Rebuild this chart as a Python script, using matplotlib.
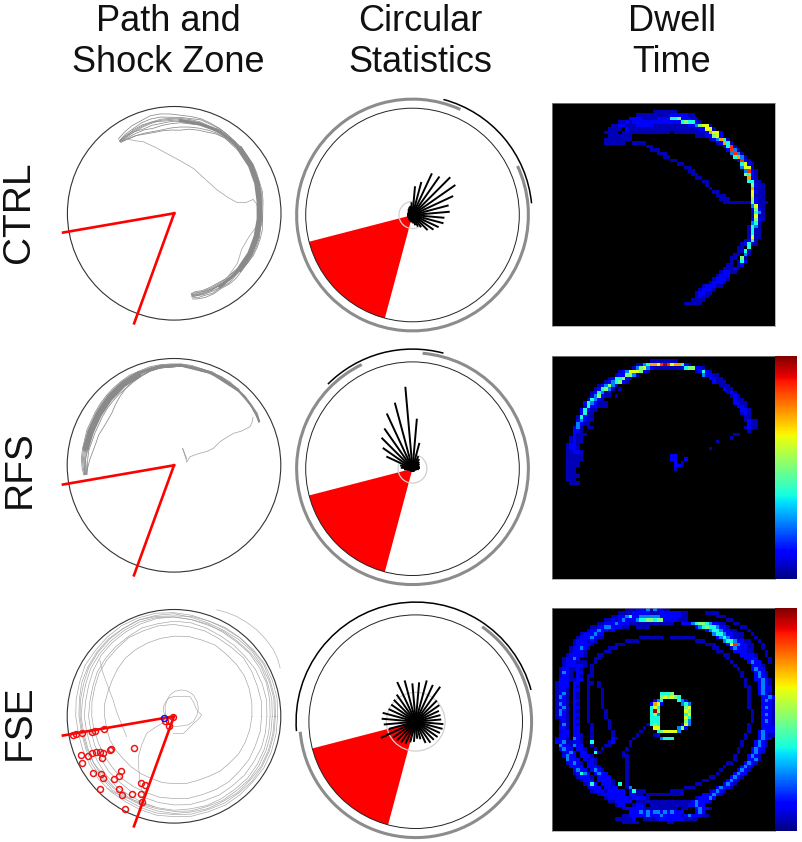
#!/usr/bin/env python3
"""Path, circular statistics and dwell time maps for three groups."""
import numpy as np
import matplotlib
matplotlib.use("Agg")
import matplotlib.pyplot as plt
from matplotlib.cm import ScalarMappable
from matplotlib.colors import Normalize
from matplotlib.patches import Arc, Circle, Wedge

W, H = 802, 842
GROUPS = ["CTRL", "RFS", "FSE"]
GROUP_Y = [212, 469, 722]
COLUMN_TITLES = [("Path and", "Shock Zone"), ("Circular", "Statistics"), ("Dwell", "Time")]
TITLE_X = [168.5, 420, 672]

# shock zone, degrees
ZONE_START = 194.5
ZONE_END = 255
ZONE_LINE_ENDS = [(-104, -18), (-37.5, -103)]

# --- paths, arena units (radius 100) ---
CTRL_ANGLES = [127, 122, 116, 110, 104, 98, 92, 86, 80, 74, 68, 62, 56, 50, 44, 38, 32, 26,
               20, 14, 8, 2, -4, -10, -16, -22, -28, -34, -40, -46, -52, -58, -64, -70, -75, -78]
CTRL_LAPS = [
    [87, 89, 91, 92, 94, 94, 93, 92, 92, 92, 91, 90, 89, 88, 88, 87, 87, 86, 85, 85, 84, 83, 83, 84, 84, 84, 84, 83, 83, 84, 84, 83, 84, 84, 83, 82],
    [85, 87, 88, 90, 91, 91, 90, 90, 90, 91, 90, 90, 89, 88, 87, 87, 86, 85, 84, 84, 83, 82, 83, 82, 83, 83, 83, 83, 82, 82, 83, 82, 83, 82, 82, 80],
    [84, 84, 85, 86, 87, 88, 88, 89, 89, 89, 88, 89, 88, 87, 87, 86, 85, 84, 84, 83, 82, 82, 81, 82, 82, 82, 81, 82, 81, 81, 81, 82, 81, 81, 80, 80],
    [85, 85, 85, 84, 85, 85, 86, 87, 87, 87, 87, 88, 87, 86, 86, 85, 85, 84, 83, 82, 82, 81, 81, 81, 81, 81, 81, 80, 81, 81, 80, 80, 80, 80, 80, 79],
    [84, 83, 83, 83, 82, 83, 84, 85, 85, 86, 86, 87, 86, 86, 85, 84, 84, 83, 83, 82, 81, 81, 80, 80, 80, 80, 80, 81, 80, 80, 79, 79, 79, 78, 78, 78],
    [84, 82, 81, 80, 79, 79, 80, 81, 82, 83, 84, 85, 85, 85, 85, 84, 83, 82, 82, 81, 80, 80, 79, 79, 79, 79, 80, 79, 79, 78, 78, 78, 78, 78, 77, 77],
    [83, 82, 81, 79, 78, 78, 78, 78, 80, 81, 82, 84, 85, 84, 84, 83, 83, 82, 81, 80, 79, 79, 79, 78, 78, 79, 79, 79, 79, 78, 78, 77, 77, 77, 76, 77],
    [85, 86, 86, 87, 88, 89, 89, 88, 88, 88, 88, 88, 87, 87, 86, 85, 85, 83, 83, 81, 81, 79, 78, 79, 80, 80, 80, 80, 80, 79, 80, 80, 79, 79, 79, 78],
    [85, 85, 87, 88, 88, 87, 87, 86, 86, 87, 87, 86, 87, 85, 85, 86, 84, 84, 82, 83, 80, 80, 82, 80, 79, 81, 82, 81, 80, 80, 81, 79, 80, 80, 79, 79],
]
# densest stretches of the track
CTRL_CORE_ANGLES = [86, 74, 62, 50, 38, 26, 14, 2, -10, -22, -34, -46, -58]
CTRL_CORE_RADII = [87, 87, 87.5, 87, 85.5, 83.5, 81.5, 80, 80, 80.5, 80.5, 80.5, 81]
CTRL_THICK_ANGLES = [44, 32, 20, 8, -4, -16, -28, -40]
CTRL_THICK_RADII = [86, 84.5, 82.5, 80.5, 80, 80, 80.5, 80.5]
CTRL_EXTRA = [
    [(-46, 70), (-37, 68), (-29, 67), (-18, 62), (-7, 56), (6, 49), (18, 42), (29, 32), (40, 22), (50, 15), (59, 10), (67, 10), (74, 13), (77, 9), (79, 4)],
    [(78, -11), (70, -22), (63, -34), (61, -41), (59, -47), (50, -60), (43, -69), (36, -73), (30, -75)],
]

RFS_ANGLES = [27, 32, 38, 44, 50, 56, 62, 68, 74, 80, 86, 92, 98, 104, 110, 116, 122, 128,
              134, 140, 146, 152, 158, 164, 170, 176, 182, 186]
RFS_LAPS = [
    [90, 92, 92, 93, 93, 94, 94, 94, 94, 95, 95, 95, 95, 95, 94, 94, 93, 92, 91, 90, 89, 88, 88, 87, 87, 87, 86, 85],
    [90, 91, 92, 92, 93, 93, 94, 93, 94, 94, 94, 94, 94, 94, 93, 93, 92, 91, 90, 89, 88, 87, 87, 86, 86, 86, 85, 84],
    [89, 91, 91, 92, 93, 93, 93, 93, 93, 94, 94, 93, 93, 93, 92, 92, 91, 90, 89, 88, 87, 86, 86, 85, 85, 85, 84, 84],
    [90, 90, 91, 92, 92, 93, 92, 93, 93, 93, 93, 93, 93, 92, 92, 91, 90, 89, 88, 87, 86, 85, 85, 84, 84, 84, 84, 83],
    [89, 90, 91, 91, 92, 92, 92, 92, 93, 93, 93, 93, 92, 92, 91, 90, 89, 88, 87, 86, 85, 84, 84, 83, 83, 83, 83, 83],
    [90, 91, 91, 92, 92, 92, 93, 93, 92, 93, 93, 92, 92, 91, 90, 89, 88, 87, 86, 85, 84, 83, 82, 82, 82, 83, 82, 82],
    [90, 91, 91, 92, 92, 92, 93, 93, 92, 93, 93, 92, 92, 91, 89, 87, 85, 84, 83, 82, 81, 80, 80, 80, 81, 81, 81, 82],
    [90, 91, 91, 92, 92, 92, 93, 93, 92, 93, 93, 92, 92, 91, 89, 87, 85, 82, 79, 76, 75, 75, 76, 76, 77, 79, 81, 83],
]
RFS_CORE_ANGLES = [50, 68, 86, 98, 110, 122, 134, 146, 158, 170]
RFS_CORE_RADII = [92.5, 93.5, 94, 93.5, 92.5, 90.5, 88.5, 86.5, 85, 84.5]
RFS_THICK_ANGLES = [112, 122, 134, 146, 158, 168]
RFS_THICK_RADII = [91, 89.5, 87, 85, 84, 84]
RFS_EXTRA = [
    [(74, 45), (73, 40), (71, 36), (63, 32), (56, 30), (49, 26), (43, 22), (37, 16), (31, 13), (23, 11), (15, 8), (12, 3), (10, 10), (8, 16), (10, 11), (12, 6)],
]

FSE_ANGLES = list(range(0, 370, 10))
FSE_LAPS = [
    [73, 74, 75, 76, 76, 76, 77, 76, 76, 75, 74, 73, 72, 71, 69, 67, 66, 66, 65, 64, 64, 63, 62, 62, 62, 62, 63, 63, 64, 64, 65, 67, 68, 70, 71, 72, 73],
    [82, 83, 83, 84, 85, 84, 84, 85, 85, 86, 86, 85, 85, 83, 82, 81, 79, 78, 77, 76, 75, 75, 75, 76, 76, 76, 77, 77, 78, 78, 79, 80, 80, 81, 81, 82, 82],
    [87, 88, 88, 88, 87, 87, 87, 88, 89, 89, 88, 88, 86, 85, 84, 83, 81, 80, 80, 79, 79, 79, 80, 80, 81, 81, 82, 83, 84, 84, 85, 85, 86, 86, 87, 87, 87],
    [90, 91, 92, 92, 92, 91, 91, 92, 92, 93, 93, 92, 91, 90, 89, 87, 85, 84, 84, 83, 83, 83, 84, 85, 85, 86, 87, 88, 88, 89, 89, 89, 90, 90, 90, 90, 90],
    [94, 95, 95, 95, 95, 94, 93, 93, 94, 96, 96, 96, 95, 94, 93, 92, 90, 89, 88, 87, 87, 87, 88, 88, 88, 89, 90, 91, 91, 92, 92, 93, 93, 94, 94, 94, 94],
    [97, 98, 98, 98, 97, 96, 95, 95, 96, 97, 98, 98, 98, 97, 96, 96, 94, 93, 92, 91, 91, 91, 92, 92, 92, 93, 94, 94, 95, 95, 96, 96, 96, 97, 97, 97, 97],
    [92, 93, 93, 94, 93, 92, 92, 91, 92, 93, 94, 94, 93, 92, 91, 90, 88, 87, 87, 86, 86, 87, 86, 87, 87, 88, 88, 89, 90, 90, 91, 91, 92, 92, 92, 92, 92],
    [95, 96, 96, 97, 96, 96, 96, 95, 95, 94, 95, 96, 95, 95, 94, 93, 92, 90, 89, 88, 88, 89, 89, 90, 90, 91, 92, 92, 93, 93, 94, 94, 95, 95, 95, 95, 95],
]
FSE_EXTRA = [
    [(40, 99.7), (50, 97), (58.8, 93.4), (68, 88), (77.5, 81), (86, 72), (93, 62.5), (97, 54), (99.4, 45.3)],
    [(-6.9, -1.9), (-8, 3), (-8.4, 9), (-6.5, 15), (-3.8, 20), (1, 23.5), (7.2, 24.7), (13, 23.5), (18.1, 20), (21.5, 14),
     (22.8, 7.5), (21.5, 1), (18.1, -5), (13, -8), (7.2, -9), (2, -9.5), (-2.2, -9)],
    [(-8.4, 1.2), (-10, 5), (-10, 9), (-8, 13), (-5.3, 17), (0, 18.5), (4, 18.4), (10, 18.8), (15, 18.4), (18.5, 13),
     (20.6, 7.5), (23, 4), (26, 1.2), (22.5, -3), (18, -7), (14, -11), (8.8, -16), (4, -16.3), (-0.6, -16)],
    [(-44.4, -19), (-48, -10), (-52, -0.3), (-55, 8), (-57, 15.3), (-60, 23), (-63, 31), (-67, 42), (-69.4, 52.8)],
    [(-8.4, -5), (-17, -10), (-25.6, -16), (-30, -26), (-33.4, -37.8), (-33, -49), (-32, -59.7), (-30, -69), (-27, -78.4)],
    [(-63, -67.5), (-55, -72), (-47.5, -75), (-33, -80), (-19, -84.7)],
]
FSE_SHOCKS = [(-94.4, -17.5), (-91.9, -16.6), (-86.6, -15.3), (-77.2, -14.4), (-74.1, -14.1), (-65.6, -11.9),
              (-59.4, -30.9), (-60, -31.6), (-37.2, -29.4), (-87.5, -36.6), (-86.6, -43.4), (-80.3, -37.2),
              (-76.6, -34.7), (-73.4, -33.1), (-69.4, -33.4), (-66.3, -34.1), (-67.2, -39.1), (-75.6, -53.4),
              (-68.8, -54.4), (-66.3, -57.8), (-56.3, -58.4), (-51.6, -55.9), (-50, -51.3), (-69.4, -67.8),
              (-51.6, -68.4), (-48.4, -73.4), (-39.1, -72.5), (-31.3, -62.2), (-27.2, -64.7), (-31.3, -72.5),
              (-29.7, -80), (-45.9, -86.6), (-8.4, -4.4), (-4.4, -4.1), (-4.7, -8.8), (-1, -1)]
FSE_FIRST_ENTRY = (-9, -1.3)

# --- circular statistics: one ray per 10 degree bin, starting at 5 degrees ---
ROSE_ANGLES = list(range(5, 365, 10))
CTRL_ROSE = [35, 35, 42, 49, 50, 44, 43, 32, 27, 12, 9, 8, 7, 6, 5, 5, 5, 5, 5, 5, 5, 5, 5, 6, 6, 7, 7, 8, 10, 12, 14, 20, 24, 27, 30, 30]
RFS_ROSE = [7, 7, 7, 8, 9, 11, 13, 25, 47, 77, 64, 57, 46, 41, 34, 27, 12, 11, 8, 5, 3, 3, 3, 3, 3, 3, 3, 3, 3, 3, 3, 3, 3, 3, 4, 6]
FSE_ROSE = [24, 24, 24, 27, 28, 40, 38, 40, 37, 36, 40, 41, 31, 29, 28, 28, 32, 32, 30, 26, 36, 26, 25, 24, 23, 20, 19, 16, 17, 22, 24, 24, 25, 25, 26, 26]
# arcs as (start, end) in degrees
GRAY_ARCS = [(65.6, 385), (116, 445), (185, 415)]
BLACK_ARCS = [(5.6, 75), (75, 135), (15.4, 184.5)]
INNER_CIRCLES = [12.7, 13.5, 27.5]

# --- dwell time maps, 64 x 64: (row, first column, cell levels 0-9) ---
# position of each level on the colour scale
LEVELS = [0, 0.05, 0.12, 0.25, 0.38, 0.5, 0.62, 0.74, 0.86, 0.97]
CTRL_CELLS = [
    (2, 29, "1111111"), (3, 24, "11111111112222211"), (4, 22, "222211112222445222" "11"),
    (5, 19, "112122222222222222454421"), (6, 17, "1122111222221111111111223566" "1"),
    (7, 16, "1111021111111111111111111122661"), (8, 15, "11110111111111111110111111111" "27" "662"),
    (9, 16, "1111111"), (9, 41, "11122562"), (10, 15, "11111111"), (10, 45, "123741"),
    (11, 15, "111111"), (11, 23, "1111"), (11, 47, "12741"), (12, 27, "11"), (12, 49, "2481"),
    (13, 28, "111"), (13, 50, "2831"), (14, 30, "111"), (14, 51, "3831"), (15, 32, "11"), (15, 52, "4731"),
    (16, 34, "11"), (16, 53, "2821"), (17, 36, "11"), (17, 54, "4621"), (18, 38, "11"), (18, 54, "3661"),
    (19, 39, "11"), (19, 55, "3821"), (20, 40, "11"), (20, 55, "5421"), (21, 41, "11"), (21, 56, "721"),
    (22, 43, "11"), (22, 56, "4411"), (23, 44, "1"), (23, 57, "5211"), (24, 45, "1"), (24, 57, "7111"),
    (25, 46, "11"), (25, 57, "6211"), (26, 47, "111"), (26, 57, "6111"), (27, 48, "111"), (27, 57, "5211"),
    (28, 49, "11111111"), (28, 57, "52111"), (29, 57, "3611"), (30, 57, "2521"), (31, 57, "1431"),
    (32, 57, "1611"), (33, 57, "2521"), (34, 57, "341"), (35, 56, "1431"), (36, 56, "1411"), (37, 56, "1411"),
    (38, 56, "1611"), (39, 55, "1241"), (40, 54, "12411"), (41, 53, "1104"), (42, 53, "1141"),
    (43, 52, "11031"), (44, 51, "11051"), (45, 51, "10142"), (46, 50, "11012"), (47, 49, "11121"),
    (48, 48, "12211"), (49, 47, "1222"), (50, 46, "12221"), (51, 45, "12221"), (52, 43, "122211"),
    (53, 42, "12221"), (54, 41, "12211"), (55, 41, "1211"), (56, 40, "1111"), (57, 38, "11111"),
]
RFS_CELLS = [
    (1, 28, "11111111"), (2, 24, "1134776898677421"), (3, 23, "135632111111112455221"),
    (4, 19, "123666521"), (4, 41, "12421"), (5, 18, "122553" "1"), (5, 43, "32211"),
    (6, 16, "124452" "1"), (6, 45, "2211"), (7, 15, "123452" "1"), (7, 46, "2111"),
    (8, 13, "123531"), (8, 48, "111"), (9, 12, "124531"), (9, 19, "1"), (9, 49, "211"),
    (10, 11, "124311"), (10, 50, "121"), (11, 11, "135211"), (11, 18, "1"), (11, 51, "121"),
    (12, 10, "14321"), (12, 52, "211"), (13, 9, "2432111"), (13, 52, "2211"),
    (14, 9, "142211"), (14, 15, "1"), (14, 53, "221"), (15, 8, "24211"), (15, 54, "221"),
    (16, 8, "2411"), (16, 54, "121"), (17, 7, "1421"), (17, 11, "1"), (17, 55, "11"),
    (18, 7, "2321"), (18, 11, "1"), (18, 55, "1211"), (19, 7, "321"), (19, 10, "1"), (19, 56, "211"),
    (20, 6, "231"), (20, 10, "11"), (20, 55, "1211"), (21, 6, "221"), (21, 56, "1"),
    (22, 6, "211"), (22, 9, "1"), (22, 52, "11"), (23, 5, "1211"), (23, 51, "1"),
    (24, 5, "1211"), (24, 47, "1"), (25, 4, "1221"), (26, 4, "1221"), (26, 45, "1"),
    (27, 4, "11221"), (28, 4, "11111"), (28, 34, "22"), (29, 4, "11111"), (29, 34, "22"), (29, 38, "2"),
    (30, 4, "1111"), (30, 35, "2"), (30, 37, "1"), (31, 4, "1111"), (31, 35, "221"),
    (32, 4, "111"), (32, 35, "1"), (33, 4, "111"), (34, 4, "1111"), (35, 4, "111"), (36, 5, "111"),
]
FSE_CELLS = [
    (0, 21, "1112223132211"), (1, 19, "11112222211122222211"), (1, 44, "1111"),
    (2, 17, "1122342233333322222211"), (2, 47, "111"), (3, 15, "112123222344554552222111"), (3, 50, "11"),
    (4, 13, "1122232221111111111111"), (4, 37, "2223455432211"), (4, 52, "11"),
    (5, 11, "11223322211"), (5, 24, "1111"), (5, 41, "2345443221"), (5, 54, "11"),
    (6, 10, "12232212"), (6, 44, "234432211"), (6, 56, "1"),
    (7, 8, "1222322"), (7, 46, "344322111"), (7, 57, "1"),
    (8, 7, "12223211"), (8, 25, "1111111"), (8, 34, "1111111"), (8, 47, "23432111"), (8, 58, "1"),
    (9, 6, "1222121"), (9, 21, "1111"), (9, 41, "111"), (9, 49, "34432211"), (9, 59, "1"),
    (10, 6, "122221"), (10, 18, "111"), (10, 44, "111"), (10, 50, "26832211"), (10, 60, "1"),
    (11, 5, "122321"), (11, 16, "111"), (11, 46, "11"), (11, 51, "2322211"), (11, 60, "1"),
    (12, 5, "12221"), (12, 15, "11"), (12, 47, "11"), (12, 52, "222211"), (12, 61, "1"),
    (13, 4, "122221"), (13, 13, "11"), (13, 49, "11"), (13, 54, "22221"), (13, 61, "1"),
    (14, 3, "12132"), (14, 12, "11"), (14, 50, "1"), (14, 55, "2222"), (14, 62, "1"),
    (15, 3, "12221"), (15, 8, "11"), (15, 12, "1"), (15, 51, "1"), (15, 56, "2322"), (15, 62, "1"),
    (16, 3, "1222"), (16, 7, "221"), (16, 11, "1"), (16, 52, "1"), (16, 57, "2221"),
    (17, 2, "12211"), (17, 7, "21"), (17, 11, "1"), (17, 53, "1"), (17, 57, "2322"),
    (18, 2, "1321"), (18, 7, "22"), (18, 11, "1"), (18, 54, "1"), (18, 58, "2321"),
    (19, 2, "1221"), (19, 7, "21"), (19, 10, "11"), (19, 54, "1"), (19, 58, "2321"),
    (20, 2, "2221"), (20, 6, "122"), (20, 10, "1"), (20, 55, "1"), (20, 58, "22321"),
    (21, 1, "1222"), (21, 6, "22"), (21, 10, "11"), (21, 13, "1"), (21, 55, "1"), (21, 59, "2321"),
    (22, 1, "1222"), (22, 6, "21"), (22, 10, "1"), (22, 13, "1"), (22, 55, "11"), (22, 59, "2322"),
    (23, 1, "1221"), (23, 6, "22"), (23, 10, "1"), (23, 14, "1"), (23, 56, "1"), (23, 59, "2322"),
    (24, 1, "1231"), (24, 6, "21"), (24, 10, "1"), (24, 14, "1"), (24, 31, "4445"), (24, 56, "1"), (24, 59, "2321"),
    (25, 1, "1321"), (25, 6, "21"), (25, 10, "1"), (25, 14, "1"), (25, 31, "565654"), (25, 56, "1"), (25, 60, "2232"),
    (26, 1, "1221"), (26, 6, "22"), (26, 10, "1"), (26, 14, "1"), (26, 29, "234"), (26, 36, "432"), (26, 56, "1"), (26, 60, "2321"),
    (27, 1, "1321"), (27, 6, "21"), (27, 10, "1"), (27, 14, "1"), (27, 28, "2762"), (27, 37, "343"), (27, 56, "1"), (27, 60, "2221"),
    (28, 1, "1231"), (28, 6, "22"), (28, 10, "1"), (28, 14, "1"), (28, 28, "464"), (28, 38, "56"), (28, 56, "1"), (28, 60, "2321"),
    (29, 1, "1321"), (29, 6, "21"), (29, 10, "1"), (29, 15, "1"), (29, 28, "495"), (29, 38, "65"), (29, 57, "1"), (29, 60, "2221"),
    (30, 1, "1321"), (30, 6, "22"), (30, 10, "1"), (30, 15, "1"), (30, 28, "453"), (30, 38, "46"), (30, 57, "1"), (30, 60, "2321"),
    (31, 1, "1221"), (31, 6, "21"), (31, 10, "1"), (31, 15, "1"), (31, 28, "444"), (31, 38, "64"), (31, 57, "1"), (31, 60, "2221"),
    (32, 2, "121"), (32, 6, "22"), (32, 10, "1"), (32, 16, "1"), (32, 28, "444"), (32, 38, "53"), (32, 57, "1"), (32, 60, "2321"),
    (33, 2, "131"), (33, 6, "21"), (33, 11, "1"), (33, 16, "1"), (33, 27, "1"), (33, 28, "454"), (33, 37, "263"), (33, 56, "1"), (33, 60, "2221"),
    (34, 2, "221"), (34, 6, "22"), (34, 11, "1"), (34, 16, "1"), (34, 26, "1"), (34, 29, "66"), (34, 36, "352"), (34, 56, "1"), (34, 60, "2222"),
    (35, 2, "122"), (35, 6, "22"), (35, 11, "1"), (35, 17, "1"), (35, 25, "1"), (35, 30, "4566663"), (35, 56, "1"), (35, 59, "23222"),
    (36, 2, "222"), (36, 6, "221"), (36, 11, "1"), (36, 17, "1"), (36, 24, "1"), (36, 29, "12"), (36, 55, "1"), (36, 59, "23211"),
    (37, 1, "1221"), (37, 6, "321"), (37, 11, "1"), (37, 17, "21"), (37, 23, "1"), (37, 31, "3444"), (37, 55, "1"), (37, 59, "2322"),
    (38, 1, "2231"), (38, 5, "1221"), (38, 11, "4"), (38, 16, "12"), (38, 22, "1"), (38, 54, "1"), (38, 58, "2321"),
    (39, 2, "3221"), (39, 6, "322"), (39, 11, "1"), (39, 15, "11"), (39, 22, "1"), (39, 54, "1"), (39, 58, "2321"),
    (40, 2, "2322"), (40, 7, "221"), (40, 12, "1"), (40, 14, "1"), (40, 21, "1"), (40, 53, "1"), (40, 57, "2322"),
    (41, 3, "1232"), (41, 8, "22"), (41, 12, "41"), (41, 20, "1"), (41, 53, "1"), (41, 57, "2321"),
    (42, 3, "2322"), (42, 8, "2221"), (42, 20, "11"), (42, 52, "1"), (42, 56, "2321"),
    (43, 4, "3222"), (43, 9, "2121"), (43, 21, "1"), (43, 52, "1"), (43, 56, "2231"),
    (44, 4, "12321"), (44, 10, "221"), (44, 21, "1"), (44, 50, "11"), (44, 55, "2321"),
    (45, 5, "2222"), (45, 10, "2221"), (45, 21, "1"), (45, 49, "1"), (45, 54, "2321"),
    (46, 6, "2322"), (46, 11, "2321"), (46, 21, "1"), (46, 48, "1"), (46, 53, "2321"),
    (47, 6, "12432"), (47, 12, "2322"), (47, 21, "1"), (47, 47, "1"), (47, 52, "2322"),
    (48, 7, "12221"), (48, 13, "2222"), (48, 21, "1"), (48, 45, "11"), (48, 51, "2321"),
    (49, 8, "1222"), (49, 13, "22221"), (49, 21, "1"), (49, 43, "11"), (49, 50, "2321"),
    (50, 9, "1242"), (50, 14, "2221"), (50, 19, "4"), (50, 21, "1"), (50, 41, "11"), (50, 49, "2321"),
    (51, 10, "1222"), (51, 15, "2222"), (51, 21, "13"), (51, 38, "111"), (51, 47, "23221"),
    (52, 11, "12221"), (52, 16, "22222"), (52, 22, "241"), (52, 25, "11"), (52, 34, "1111"), (52, 45, "12321"),
    (53, 13, "1222"), (53, 17, "2222"), (53, 22, "2211"), (53, 27, "11111111111"), (53, 43, "222321"),
    (54, 15, "12222221"), (54, 23, "22221"), (54, 41, "122232"),
    (55, 16, "1122222"), (55, 24, "1111111111111111"), (55, 40, "232221"),
    (56, 18, "122"), (56, 23, "1221"), (56, 28, "11111111111"), (56, 39, "22322"),
    (57, 20, "1222221"), (57, 27, "111111111"), (57, 37, "11"), (57, 41, "23221"),
    (58, 22, "2223232332323222"), (58, 41, "232"),
    (59, 20, "112222232223222221"), (59, 38, "2322211"),
    (60, 18, "111112"), (60, 26, "1111"), (60, 30, "222222221111"),
    (61, 20, "11111"), (61, 33, "11"),
]

# layout in pixels, measured from the top left
PATH_CENTERS = [(174.2, 213.3), (174.0, 465.3), (174.0, 716.3)]
STAT_CENTERS = [(412.5, 215.0), (412.5, 468.7), (415.7, 721.7)]
ARENA_PX = 106.8
MAP_TOPS = [103, 356, 608]
MAP_LEFT = 552.3
MAP_SIZE = 223
BAR_WIDTH = 22


def px_axes(fig, left, top, width, height):
    return fig.add_axes([left / W, 1 - (top + height) / H, width / W, height / H])


def arena_axes(fig, center):
    half = 1.4 * ARENA_PX
    ax = px_axes(fig, center[0] - half, center[1] - half, 2 * half, 2 * half)
    ax.set_xlim(-140, 140)
    ax.set_ylim(-140, 140)
    ax.axis("off")
    return ax


def polar_xy(angles, radii):
    theta = np.radians(angles)
    return np.array(radii) * np.cos(theta), np.array(radii) * np.sin(theta)


def draw_path(ax, angles, laps, extra, color="#8a8a8a", lw=0.55):
    for radii in laps:
        x, y = polar_xy(angles, radii)
        ax.plot(x, y, color=color, lw=lw, clip_on=False)
    for points in extra:
        x, y = zip(*points)
        ax.plot(x, y, color="#a8a8a8", lw=lw, clip_on=False)


def draw_band(ax, angles, radii, lw):
    x, y = polar_xy(angles, radii)
    ax.plot(x, y, color="#8a8a8a", lw=lw)


def draw_zone_lines(ax):
    for end in ZONE_LINE_ENDS:
        ax.plot([0, end[0]], [0, end[1]], color="#ff0000", lw=1.9, clip_on=False)


def draw_stats(ax, rose, gray_arc, black_arc, inner):
    ax.add_patch(Wedge((0, 0), 100, ZONE_START, ZONE_END, color="#ff0000", lw=0))
    ax.add_patch(Circle((0, 0), 100, fill=False, ec="#222222", lw=0.7))
    ax.add_patch(Circle((0, 0), inner, fill=False, ec="#d0d0d0", lw=0.9))
    ax.add_patch(Arc((0, 0), 217, 217, theta1=gray_arc[0], theta2=gray_arc[1], color="#8c8c8c", lw=2.2))
    ax.add_patch(Arc((0, 0), 224, 224, theta1=black_arc[0], theta2=black_arc[1], color="#000000", lw=1.1))
    for angle, length in zip(ROSE_ANGLES, rose):
        x, y = polar_xy([0, angle], [0, length])
        ax.plot(x, y, color="#000000", lw=1.4, solid_capstyle="butt")


def dwell_grid(cells):
    grid = np.zeros((64, 64), dtype=int)
    for row, col, levels in cells:
        for i, level in enumerate(levels):
            grid[row, col + i] = int(level)
    return grid


def draw_map(fig, top, cells, with_bar):
    ax = px_axes(fig, MAP_LEFT, top, MAP_SIZE, MAP_SIZE)
    cmap = plt.get_cmap("jet").copy()
    cmap.set_bad("#000000")
    digits = dwell_grid(cells)
    grid = np.ma.masked_where(digits == 0, np.array(LEVELS)[digits])
    ax.imshow(grid, cmap=cmap, vmin=0, vmax=1, interpolation="nearest", aspect="auto")
    ax.set_facecolor("#000000")
    ax.set_xticks([])
    ax.set_yticks([])
    for spine in ax.spines.values():
        spine.set_color("#999999")
        spine.set_linewidth(0.5)
    if with_bar:
        cax = px_axes(fig, MAP_LEFT + MAP_SIZE, top, BAR_WIDTH, MAP_SIZE)
        bar = fig.colorbar(ScalarMappable(norm=Normalize(0, 1), cmap="jet"), cax=cax)
        bar.set_ticks([])
        bar.outline.set_visible(False)


def main():
    plt.rcParams["font.family"] = ["Liberation Sans", "DejaVu Sans"]
    fig = plt.figure(figsize=(W / 100, H / 100), dpi=100)

    for x, lines in zip(TITLE_X, COLUMN_TITLES):
        for baseline, line in zip((31, 72.5), lines):
            fig.text(x / W, 1 - baseline / H, line, ha="center", va="baseline",
                     fontsize=26, color="#111111")
    for y, group in zip(GROUP_Y, GROUPS):
        fig.text(19.5 / W, 1 - y / H, group, ha="center", va="center", rotation=90,
                 fontsize=28, color="#111111")

    ax = arena_axes(fig, PATH_CENTERS[0])
    ax.add_patch(Circle((0, 0), 100, fill=False, ec="#333333", lw=0.8))
    draw_path(ax, CTRL_ANGLES, CTRL_LAPS, CTRL_EXTRA)
    draw_band(ax, CTRL_CORE_ANGLES, CTRL_CORE_RADII, 2.2)
    draw_band(ax, CTRL_THICK_ANGLES, CTRL_THICK_RADII, 4.0)
    draw_zone_lines(ax)

    ax = arena_axes(fig, PATH_CENTERS[1])
    ax.add_patch(Circle((0, 0), 100, fill=False, ec="#333333", lw=0.8))
    draw_path(ax, RFS_ANGLES, RFS_LAPS, RFS_EXTRA)
    draw_band(ax, RFS_CORE_ANGLES, RFS_CORE_RADII, 2.2)
    draw_band(ax, RFS_THICK_ANGLES, RFS_THICK_RADII, 4.5)
    draw_zone_lines(ax)

    ax = arena_axes(fig, PATH_CENTERS[2])
    ax.add_patch(Circle((0, 0), 100, fill=False, ec="#333333", lw=0.8))
    draw_path(ax, FSE_ANGLES, FSE_LAPS, FSE_EXTRA, color="#a0a0a0", lw=0.45)
    draw_zone_lines(ax)
    x, y = zip(*FSE_SHOCKS)
    ax.plot(x, y, "o", ms=4.3, mfc="none", mec="#ee1111", mew=1.05, clip_on=False)
    ax.plot(*FSE_FIRST_ENTRY, "o", ms=4.3, mfc="none", mec="#1111dd", mew=1.05)

    roses = [CTRL_ROSE, RFS_ROSE, FSE_ROSE]
    for i, center in enumerate(STAT_CENTERS):
        ax = arena_axes(fig, center)
        draw_stats(ax, roses[i], GRAY_ARCS[i], BLACK_ARCS[i], INNER_CIRCLES[i])

    all_cells = [CTRL_CELLS, RFS_CELLS, FSE_CELLS]
    for i, top in enumerate(MAP_TOPS):
        draw_map(fig, top, all_cells[i], i > 0)

    fig.savefig("out.png", dpi=100)


if __name__ == '__main__':
    main()
